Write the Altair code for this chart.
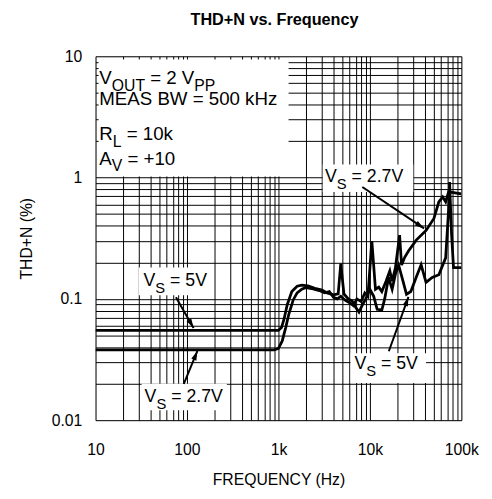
import math
import altair as alt
import pandas as pd

FONT = "Liberation Sans"

# ---------------- data ----------------
freq_27 = [10, 900, 1000, 1100, 1200, 1300, 1450, 1600, 1800, 2000, 2400, 2800, 3200, 3600,
           4000, 4400, 4800, 5400, 6000, 6600, 7200, 8000, 8800, 9500, 10500, 11500, 12500,
           13500, 15000, 16500, 17500, 19000, 21100, 22200, 24000, 26400, 32100, 41100,
           50100, 56700, 62500, 67300, 72600, 100000]
thd_27 = [0.038, 0.038, 0.039, 0.045, 0.058, 0.075, 0.098, 0.112, 0.12, 0.124, 0.121, 0.117,
          0.112, 0.115, 0.103, 0.1, 0.105, 0.097, 0.093, 0.088, 0.1, 0.095, 0.112, 0.105, 0.3,
          0.12, 0.125, 0.115, 0.14, 0.17, 0.14, 0.18, 0.335, 0.19, 0.22, 0.248, 0.305, 0.367,
          0.46, 0.631, 0.693, 0.631, 0.762, 0.733]

freq_5 = [10, 1000, 1080, 1150, 1250, 1400, 1600, 1800, 2100, 2500, 3000, 3400, 4000, 4500,
          4800, 5200, 5800, 6400, 7000, 7600, 8200, 9000, 10000, 11000, 12000, 13500, 14500,
          16000, 17500, 19000, 20600, 23000, 25100, 28000, 32000, 36300, 41100, 48000, 56700,
          67300, 72600, 74300, 78000, 82000, 100000]
thd_5 = [0.055, 0.055, 0.058, 0.068, 0.09, 0.115, 0.127, 0.13, 0.128, 0.122, 0.118, 0.112,
         0.108, 0.11, 0.195, 0.11, 0.1, 0.096, 0.085, 0.078, 0.088, 0.1, 0.12, 0.105, 0.082,
         0.081, 0.1, 0.15, 0.12, 0.16, 0.19, 0.14, 0.109, 0.115, 0.15, 0.191, 0.137, 0.15,
         0.158, 0.218, 0.55, 0.918, 0.35, 0.181, 0.181]

x_major = [10, 100, 1000, 10000, 100000]
x_major_labels = ["10", "100", "1k", "10k", "100k"]
y_major = [0.01, 0.1, 1, 10]
y_major_labels = ["0.01", "0.1", "1", "10"]

x_grid = [m * 10 ** k for k in range(1, 5) for m in range(1, 10)] + [100000]
y_grid = [round(m * 10.0 ** k, 6) for k in range(-2, 1) for m in range(1, 10)] + [10]

# annotation texts: (freq, thd, font size, sub size, [(text, is_subscript, leading gap in spaces)])
labels = [
    (11.0, 5.94, 19, 16, [("V", 0, 0), ("OUT", 1, 0), ("= 2 V", 0, 1), ("PP", 1, 0)]),
    (11.0, 3.94, 19, 16, [("MEAS BW = 500 kHz", 0, 0)]),
    (11.0, 2.05, 19, 16, [("R", 0, 0), ("L", 1, 0), ("= 10k", 0, 1)]),
    (11.0, 1.28, 19, 16, [("A", 0, 0), ("V", 1, 0), ("= +10", 0, 1)]),
    (3230, 0.918, 18, 15, [("V", 0, 0), ("S", 1, 0), ("= 2.7V", 0, 1)]),
    (33.5, 0.1268, 18, 15, [("V", 0, 0), ("S", 1, 0), ("= 5V", 0, 1)]),
    (34.4, 0.0140, 18, 15, [("V", 0, 0), ("S", 1, 0), ("= 2.7V", 0, 1)]),
    (6780, 0.0264, 18, 15, [("V", 0, 0), ("S", 1, 0), ("= 5V", 0, 1)]),
]
# white boxes behind the annotations: f1, f2, v1, v2
boxes_f1 = [10.8, 3050, 29.7, 31.9, 6140]
boxes_f2 = [1290, 29800, 194, 273, 41100]
boxes_v1 = [1.02, 0.76, 0.107, 0.01205, 0.0203]
boxes_v2 = [9.4, 1.28, 0.181, 0.01995, 0.0356]
# arrows: from (f1, v1) to tip (f2, v2)
arrows_f1 = [8260, 75.7, 92.3, 16100]
arrows_v1 = [0.836, 0.103, 0.01995, 0.037]
arrows_f2 = [39100, 118, 130, 26400]
arrows_v2 = [0.381, 0.0575, 0.0372, 0.104]

W, H = 372, 370

# ---------------- build chart ----------------
def label_expr(vals, labs):
    expr = "''"
    for v, l in zip(reversed(vals), reversed(labs)):
        expr = f"abs(datum.value - {v}) < {v * 1e-6} ? '{l}' : ({expr})"
    return expr

xs = alt.Scale(type="log", domain=[10, 100000], nice=False)
ys = alt.Scale(type="log", domain=[0.01, 10], nice=False)

common = dict(grid=True, gridColor="black", gridOpacity=1, gridWidth=1, ticks=False,
              domain=False, labelFontSize=16, titleFontSize=16, labelFont=FONT,
              titleFont=FONT, labelColor="black", titleColor="black",
              titleFontWeight="normal", labelOverlap=False, labelFlush=False)
x_axis = alt.Axis(values=x_grid, labelExpr=label_expr(x_major, x_major_labels),
                  title="FREQUENCY (Hz)", labelPadding=22, titlePadding=14, **common)
y_axis = alt.Axis(values=y_grid, labelExpr=label_expr(y_major, y_major_labels),
                  title="THD+N (%)", labelPadding=14, titlePadding=17, **common)

rows = []
for name, fs, vs in (("2.7V", freq_27, thd_27), ("5V", freq_5, thd_5)):
    for i, (f, v) in enumerate(zip(fs, vs)):
        rows.append({"series": name, "f": f, "thd": v, "idx": i})
df = pd.DataFrame(rows)

lines = alt.Chart(df).mark_line(color="black", strokeWidth=2.8, clip=True).encode(
    x=alt.X("f:Q", scale=xs, axis=x_axis),
    y=alt.Y("thd:Q", scale=ys, axis=y_axis),
    detail="series:N",
    order="idx:Q",
)

box_df = pd.DataFrame({"f1": boxes_f1, "f2": boxes_f2, "v1": boxes_v1, "v2": boxes_v2})
boxes = alt.Chart(box_df).mark_rect(color="white", opacity=1).encode(
    x=alt.X("f1:Q", scale=xs), x2="f2:Q",
    y=alt.Y("v1:Q", scale=ys), y2="v2:Q",
)

angs = []
for f1, v1, f2, v2 in zip(arrows_f1, arrows_v1, arrows_f2, arrows_v2):
    dx = W * (math.log10(f2) - math.log10(f1)) / 4
    dy = -H * (math.log10(v2) - math.log10(v1)) / 3
    angs.append(math.degrees(math.atan2(dx, -dy)) % 360)
arr_df = pd.DataFrame({"f1": arrows_f1, "v1": arrows_v1, "f2": arrows_f2, "v2": arrows_v2,
                       "ang": angs})
arrow_lines = alt.Chart(arr_df).mark_rule(color="black", strokeWidth=2).encode(
    x=alt.X("f1:Q", scale=xs), x2="f2:Q",
    y=alt.Y("v1:Q", scale=ys), y2="v2:Q",
)
arrow_heads = alt.Chart(arr_df).mark_point(
    shape="M0,0L-0.55,1.9L0.55,1.9Z", filled=True, color="black", opacity=1, size=100
).encode(
    x=alt.X("f2:Q", scale=xs), y=alt.Y("v2:Q", scale=ys),
    angle=alt.Angle("ang:Q", scale=None),
)

CHAR_W = {"V": 0.667, "O": 0.778, "U": 0.722, "T": 0.611, "P": 0.667, " ": 0.278,
          "=": 0.584, ".": 0.278, "R": 0.722, "L": 0.556, "A": 0.667, "S": 0.667,
          "+": 0.584, "k": 0.5, "M": 0.833, "E": 0.667, "B": 0.667, "W": 0.944,
          "H": 0.722, "z": 0.5}

def text_width(s, size):
    return sum(CHAR_W.get(c, 0.556) for c in s) * size

text_layers = []
for f, v, size, sub, parts in labels:
    off = 0.0
    for txt, is_sub, gap in parts:
        fs = sub if is_sub else size
        off += gap * 0.278 * size
        t = alt.Chart(pd.DataFrame({"f": [f], "thd": [v], "t": [txt]})).mark_text(
            align="left", baseline="alphabetic", font=FONT, fontSize=fs, color="black",
            dx=round(off, 1), dy=7 if is_sub else 0,
        ).encode(x=alt.X("f:Q", scale=xs), y=alt.Y("thd:Q", scale=ys), text="t:N")
        text_layers.append(t)
        off += text_width(txt, fs)

chart = alt.layer(lines, boxes, arrow_lines, arrow_heads, *text_layers).properties(
    width=W, height=H,
    padding={"left": 10, "top": 0, "right": 5, "bottom": 5},
    title=alt.TitleParams("THD+N vs. Frequency", fontSize=16.5, fontWeight="bold", font=FONT,
                          color="black", anchor="middle", offset=20, dx=-4),
).configure_view(stroke="black", strokeWidth=1.5).configure(background="white")

chart.save("out.html", embed_options={"renderer": "svg", "actions": False})
